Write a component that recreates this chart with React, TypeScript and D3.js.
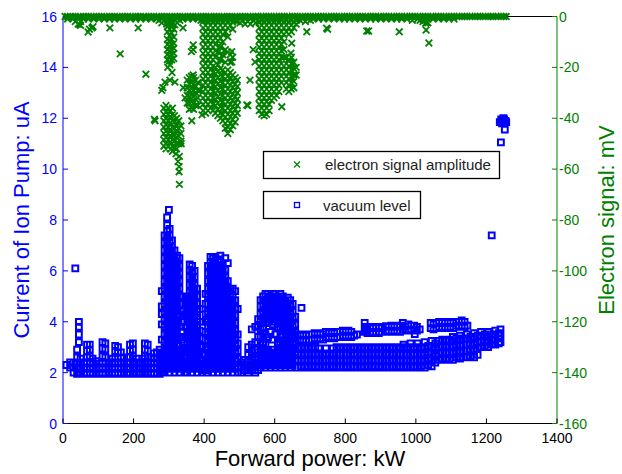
import React from 'react';
import * as d3 from 'd3';

const X_TICKS = [0, 200, 400, 600, 800, 1000, 1200, 1400];
const LEFT_TICKS = [0, 2, 4, 6, 8, 10, 12, 14, 16];
const RIGHT_TICKS = [-160, -140, -120, -100, -80, -60, -40, -20, 0];
const LEGEND_LABELS = ['electron signal amplitude', 'vacuum level'];

// Vacuum level (uA) — columns "power: current current ..."
const VACUUM_BASELINE =
  "10:2.3;20:2.2 2.4;30:2.0 2.2 2.4;40:1.95 2.15 2.35 2.6 2.9;45:2.0 2.2 3.2 3.5 3.8 4.0;50:1.95 2.15 2.35 2.55;60:2.0 2.2 2.4;68:1.95 2.15 2.35 2.6 2.85 3.1;76:2.0 2.2 2.4 2.65 2.9 3.1;84:1.95 2.15 2.35 2.55;94:2.0 2.2 2.45;104:1.95 2.15 2.35;112:2.0 2.2 2.4 2.65 2.95 3.2;120:1.95 2.15 2.35 2.6 2.9 3.15;130:2.0 2.2 2.4;140:1.95 2.15 2.35 2.55;148:2.0 2.2 2.4 2.6 2.85 3.05;156:1.95 2.15 2.35 2.55 2.8 3.0;164:2.0 2.2 2.4 2.6 2.8;174:1.95 2.15 2.35;184:2.0 2.2 2.4 2.6;190:1.95 2.15 2.35 2.6 2.85 3.1;198:2.0 2.2 2.4 2.65 2.9 3.15;208:1.95 2.15 2.35 2.55;218:2.0 2.2 2.4;226:1.95 2.15 2.35 2.55;232:2.0 2.2 2.4 2.65 2.9 3.15;240:1.95 2.15 2.35 2.6 2.85 3.1;250:2.0 2.2 2.4 2.6;258:1.95 2.15 2.35 2.55 2.75;266:2.0 2.2 2.4 2.6 2.8;274:1.95 2.15 2.35 2.6 2.9;280:2.0 2.2 2.5 2.8 3.3 3.9 4.3 4.6 5.2";

const VACUUM_PEAKS =
  "288:2.0 2.3 2.6 2.9 3.2 3.5 3.8 4.1 4.4 4.7 5.0 5.3 5.6 5.9 6.2 6.5 6.8 7.1 7.4;295:2.15 2.45 2.75 3.05 3.35 3.65 3.95 4.25 4.55 4.85 5.15 5.45 5.75 6.05 6.35 6.65 6.95 7.25 7.55 7.8 8.1;300:8.4;302:2.0 2.3 2.6 2.9 3.2 3.5 3.8 4.1 4.4 4.7 5.0 5.3 5.6 5.9 6.2 6.5 6.8 7.1 7.4 7.65;309:2.15 2.45 2.75 3.05 3.35 3.65 3.95 4.25 4.55 4.85 5.15 5.45 5.75 6.05 6.35 6.65 6.95 7.2;316:2.0 2.3 2.6 2.9 3.2 3.5 3.8 4.1 4.4 4.7 5.0 5.3 5.6 5.9 6.2 6.5 6.8;323:2.15 2.45 2.75 3.05 3.35 3.65 3.95 4.25 4.55 4.85 5.15 5.45 5.75 6.05 6.35 6.6;330:2.0 2.3 2.6 2.9 3.4 3.8 4.3 4.7 5.0 5.3 5.6 5.9 6.2 6.5;337:2.15 2.45 2.8 3.3 3.6 4.0 4.4 4.7 5.0;344:2.0 2.25 2.55 2.85 3.2 4.0 4.3;" +
  "352:2.0 2.3 2.6 2.9 3.2 3.5 3.8 4.1 4.4 4.7 5.0;359:2.15 2.45 2.75 3.05 3.35 3.65 3.95 4.25 4.55 4.85 5.15 5.45 5.75 6.05 6.25;366:2.0 2.3 2.6 2.9 3.2 3.5 3.8 4.1 4.4 4.7 5.0 5.3 5.6 5.9 6.2;373:2.15 2.45 2.75 3.05 3.35 3.65 3.95 4.25 4.55 4.85 5.15 5.45 5.75 6.0;380:2.0 2.3 2.6 2.9 3.2 3.5 3.8 4.1 4.4 4.7 5.0 5.3;387:2.15 2.45 2.75 3.05 3.35 3.65 4.0 4.5;394:2.0 2.2 2.5 3.0;399:2.1 2.35 2.7;407:2.0 3.0 4.0;" +
  "404:2.1 2.4 2.7 3.3 3.6 4.3 4.7 5.1;411:2.0 2.3 2.6 2.9 3.2 3.5 3.8 4.1 4.4 4.7 5.0 5.3 5.6 5.9 6.2;418:2.15 2.45 2.75 3.05 3.35 3.65 3.95 4.25 4.55 4.85 5.15 5.45 5.75 6.05 6.35 6.55;425:2.0 2.3 2.6 2.9 3.2 3.5 3.8 4.1 4.4 4.7 5.0 5.3 5.6 5.9 6.2 6.5;432:2.15 2.45 2.75 3.05 3.35 3.65 3.95 4.25 4.55 4.85 5.15 5.45 5.75 6.05 6.35 6.55;439:2.0 2.3 2.6 2.9 3.2 3.5 3.8 4.1 4.4 4.7 5.0 5.3 5.6 5.9 6.2 6.45;446:2.15 2.45 2.75 3.05 3.35 3.65 3.95 4.25 4.55 4.85 5.15 5.45 5.75 6.05 6.35 6.6;453:2.0 2.3 2.6 2.9 3.2 3.5 3.8 4.1 4.4 4.7 5.0 5.3 5.6 5.9 6.2;460:2.15 2.45 2.75 3.05 3.35 3.65 3.95 4.25 4.55 4.85 5.15 5.45 5.75 6.05 6.5;467:2.0 2.3 2.6 2.9 3.2 3.5 3.8 4.1 4.4 4.7 5.0 5.3 5.6 6.3;474:2.15 2.45 2.75 3.05 3.35 3.65 3.95 4.25 4.55 4.85 5.1 5.3;481:2.0 2.3 2.6 2.9 3.2 3.5 3.8 4.1 4.4 4.7 5.0 5.3;488:2.15 2.45 2.75 3.05 3.35 3.65 3.95 4.25 4.55 4.85 5.2;495:2.0 2.25 2.55 2.85 3.15 3.5 4.5;" +
  "505:2.0 2.2 2.4;515:2.1 2.3 2.5;525:2.0 2.2 2.4 2.7 3.0;535:2.1 2.3 2.5 2.8 3.1 3.7;545:2.0 2.2 2.4 2.6 2.9 3.2 3.8;553:2.1 2.3 2.5 2.8 3.4 3.85 4.1;" +
  "560:2.2 2.5 2.8 3.1 3.4 3.7 4.0 4.3 4.6 4.85;567:2.3 2.6 2.9 3.2 3.5 3.8 4.1 4.4 4.7 5.0;574:2.2 2.5 2.8 3.1 3.5 3.95 4.25 4.55 4.85 5.1;581:2.3 2.6 2.9 3.4 4.0 4.3 4.6 4.9 5.1;588:2.2 2.5 2.8 3.6 4.1 4.4 4.7 5.0;595:2.3 2.6 2.9 3.3 3.9 4.2 4.5 4.8 5.1;602:2.2 2.5 2.8 3.5 4.0 4.3 4.6 4.9 5.1;609:2.3 2.6 2.9 3.2 3.8 4.1 4.4 4.7 5.0;616:2.2 2.5 2.8 3.1 3.4 3.7 4.0 4.3 4.6 4.9 5.1;623:2.3 2.6 2.9 3.2 3.5 3.8 4.1 4.4 4.7 5.0;630:2.2 2.5 2.8 3.1 3.4 3.7 4.0 4.3 4.6 4.85;637:2.3 2.6 2.9 3.2 3.5 3.8 4.1 4.4 4.7 4.95;644:2.2 2.5 2.8 3.1 3.4 3.7 4.0 4.3 4.6 4.85;651:2.3 2.6 2.9 3.2 3.5 3.8 4.1 4.4 4.7;658:2.2 2.5 2.8 3.1 3.4 3.6 3.9 4.2";

const VACUUM_LOWER_BAND =
  "665:2.2 2.45 2.7 2.95;675:2.25 2.5 2.75 3.0;685:2.2 2.45 2.7 2.95;695:2.25 2.5 2.75 3.0;705:2.2 2.45 2.7 2.95;715:2.25 2.5 2.75 3.0;725:2.2 2.45 2.7 2.95;735:2.25 2.5 2.75;745:2.2 2.45 2.7 2.95;755:2.25 2.5 2.75;765:2.2 2.45 2.7 2.95;775:2.25 2.5 2.75 3.0;785:2.2 2.45 2.7 2.95;795:2.25 2.5 2.75 3.0;805:2.2 2.45 2.7 2.95;815:2.25 2.5 2.75 3.0;825:2.2 2.45 2.7 2.95;835:2.25 2.5 2.75 3.0;845:2.2 2.45 2.7 2.95;855:2.25 2.5 2.75 3.0;865:2.2 2.45 2.7 2.95;875:2.25 2.5 2.75 3.0;885:2.2 2.45 2.7 2.95;895:2.25 2.5 2.75 3.0;905:2.2 2.45 2.7 2.95;915:2.25 2.5 2.75 3.0;925:2.2 2.45 2.7 2.95;935:2.25 2.5 2.75 3.0;945:2.2 2.45 2.7 2.95;955:2.25 2.5 2.75 3.0;965:2.2 2.45 2.7 2.95 3.1;975:2.25 2.5 2.75 3.0;985:2.2 2.45 2.7 2.95 3.15;995:2.25 2.5 2.75 3.0;1005:2.2 2.45 2.7 2.95 3.15;1015:2.25 2.5 2.75 3.0;1025:2.2 2.45 2.7 2.95 3.2;1035:2.3 2.55 2.8 3.05;1045:2.25 2.5 2.75 3.0 3.25;1055:2.4 2.65 2.9 3.15;1065:2.5 2.75 3.0 3.25;1075:2.55 2.8 3.05 3.3;1085:2.5 2.75 3.0 3.25;1095:2.55 2.8 3.05 3.3;1105:2.5 2.75 3.0 3.25 3.4;1115:2.6 2.85 3.1 3.35;1125:2.55 2.8 3.05 3.3 3.45;1135:2.6 2.85 3.1 3.35;1145:2.6 2.85 3.1 3.35 3.5;1155:2.65 2.9 3.15 3.4;1165:2.6 2.85 3.1 3.35 3.55;1175:2.7 2.95 3.2 3.45;1185:3.0 3.2 3.45 3.6;1195:3.05 3.25 3.5;1205:3.0 3.2 3.4 3.6;1215:3.1 3.3 3.5;1225:3.1 3.3 3.5 3.65;1235:3.15 3.35 3.55;1240:3.2 3.45 3.7";

const VACUUM_UPPER_BAND =
  "665:3.3 3.5;673:3.25 3.45;681:3.3 3.5;689:3.25 3.45;697:3.3 3.5;705:3.3 3.5;713:3.35 3.55;721:3.3 3.5;729:3.35 3.55;737:3.3 3.5;745:3.4 3.6;753:3.35 3.55;761:3.4 3.6;769:3.35 3.55;777:3.4 3.6;785:3.4 3.6;793:3.45 3.65;801:3.4 3.6;809:3.45 3.65;817:3.4 3.6;825:3.45;833:3.5;855:3.6 3.8 3.95;860:3.68;863:3.55 3.75;871:3.6 3.8;879:3.55 3.75;887:3.6 3.8;895:3.55 3.75;903:3.6 3.8;915:3.65 3.83;923:3.6 3.8;931:3.65 3.85;939:3.6 3.8;947:3.65 3.85;955:3.6 3.8;963:3.7 3.85 3.95;971:3.65 3.8;979:3.7 3.9;987:3.65 3.85;995:3.7 3.85;997:3.52;1003:3.65 3.8;1011:3.7;1042:3.75 3.95;1050:3.7 3.9;1058:3.75 3.95;1066:3.8 4.0;1074:3.75 3.95;1082:3.8 4.0;1090:3.75 3.95;1098:3.8 4.0;1106:3.75 3.95;1114:3.85 4.0;1122:3.8 4.0;1130:3.85 4.05;1138:3.8 4.0;1146:3.85";

const VACUUM_OUTLIERS =
  "35:6.1;676:4.55;1215:7.4;1241:11.05;1252:11.55;1238:11.85;1242:11.95;1244:11.8;1246:11.9;1248:12.0;1250:11.95;1254:11.9;1256:11.85";

// Electron signal amplitude (mV) — columns "power: signal signal ..."
const SIGNAL_TOP =
  "6:0;13:0 -1;21:0;28:0 -1;35:0 -2;43:0 -1 -3;50:0 -2 -3.5;58:0 -1;65:0;72:0 -1;80:0;87:0 -1;95:0;102:0 -1;109:0;117:0 -1;124:0;132:0 -1;139:0;146:0 -1;154:0;161:0 -1;169:0;176:0 -1;183:0;191:0 -1;198:0;206:0 -1;213:0;220:0 -1;228:0;235:0 -1;243:0;250:0 -1;257:0;265:0 -1;272:0 -1.5;280:0 -1 -2.5;287:0 -1.5;294:0 -1 -3;302:0 -2;309:0 -1 -3;317:0 -1.5;324:0 -1 -2.5;331:0 -1.5;339:0 -1;346:0;354:0 -1;361:0;368:0 -1;376:0;383:0 -1;391:0 -1.5;398:0 -1;405:0;413:0 -1;420:0;428:0 -1;435:0;442:0 -1;450:0;457:0 -1;465:0;472:0 -1;479:0;487:0 -1;494:0 -1.5;502:0 -1 -2.5;509:0 -1.5;516:0 -1 -3;524:0 -2;531:0 -1 -3;539:0 -1.5;546:0 -1 -2.5;553:0;561:0;568:0;576:0;583:0;590:0;598:0;605:0;613:0;620:0;627:0;635:0;642:0;650:0;657:0;664:0 -1;672:0 -1.5;679:0 -1;687:0 -2;694:0 -1;701:0 -1.5;709:0 -1;716:0;724:0 -1;731:0;738:0 -1;746:0;753:0 -1;761:0;768:0 -1;775:0;783:0 -1;790:0;798:0 -1;805:0;812:0 -1;820:0;827:0 -1;835:0;842:0 -1;849:0;857:0 -1;864:0;872:0 -1;879:0;886:0 -1;894:0;901:0 -1;909:0;916:0 -1;923:0;931:0 -1;938:0;946:0 -1;953:0;960:0 -1;968:0;975:0 -1;983:0;990:0 -1.5;997:0;1005:0 -1;1012:0 -1.5;1020:0 -1 -2;1027:0 -1.5;1034:0 -1 -2.5;1042:0;1049:0 -1;1057:0;1064:0 -1;1071:0;1079:0 -1;1086:0;1094:0 -1;1101:0;1108:0 -1;1116:0;1123:0;1131:0;1138:0;1145:0;1153:0;1160:0;1168:0;1175:0;1182:0;1190:0;1197:0;1205:0;1212:0;1219:0;1227:0;1234:0;1242:0;1249:0;1256:0";

const SIGNAL_CLUSTERS =
  "296:-4 -6 -9 -11 -13 -15 -17;302:-3 -5 -7.5 -9.5 -11.5 -13.5 -15.5 -17.5;308:-4 -6.5 -9 -11 -13 -15 -17;314:-5 -8 -10.5 -12.5 -14.5 -16.5;" +
  "286:-36 -38.5 -41 -43.5 -46 -48.5 -51;292:-35 -37.5 -40 -42.5 -45 -47.5 -50 -52;298:-36 -38.5 -41 -43.5 -46 -48.5 -51;304:-37 -39.5 -42 -44.5 -47 -49.5 -52;310:-36 -38.5 -41 -43.5 -46 -48.5 -51 -53;316:-39 -41.5 -44 -46.5 -49 -51.5;322:-40 -42.5 -45 -47.5 -50 -52;328:-41 -44 -47 -50;334:-43 -46 -49;" +
  "352:-25 -28 -31 -34;358:-24 -26.5 -29 -31.5 -34 -36.5;364:-23.5 -26 -28.5 -31 -33.5 -36;370:-24 -26.5 -29 -31.5 -34 -36.5;376:-25 -27.5 -30 -32.5 -35;382:-26 -29 -32 -35;388:-29;" +
  "397:-2 -4.5 -7 -9.5 -12 -14.5 -17 -19.5 -22 -24.5 -27 -29.5 -32 -34.5 -37;404:-1.5 -3.5 -6 -8.5 -11 -13.5 -16 -18.5 -21 -23.5 -26 -28.5 -31 -33.5 -36 -38;411:-2 -4.5 -7 -9.5 -12 -14.5 -17 -19.5 -22 -24.5 -27 -29.5 -32 -34.5 -37;418:-1.5 -3.5 -6 -8.5 -11 -13.5 -16 -18.5 -21 -23.5 -26 -28.5 -31 -33.5 -36;425:-2 -4.5 -7 -9.5 -12 -14.5 -17 -19.5 -22 -24.5 -27 -29.5 -32 -34.5 -37;432:-1.5 -3.5 -6 -8.5 -11 -13.5 -16 -20 -22.5 -25 -27.5 -30 -32.5 -35 -38;439:-2 -4.5 -7 -9.5 -14 -19 -21.5 -24 -26.5 -29 -31.5 -34 -36.5 -39;446:-1.5 -3.5 -6 -8.5 -12 -17 -20.5 -23 -25.5 -28 -30.5 -33 -35.5 -38 -40;453:-2 -4.5 -7 -10 -15 -21 -23.5 -26 -28.5 -31 -33.5 -36 -38.5 -41;460:-1.5 -3.5 -6 -13 -18 -22 -24.5 -27 -29.5 -32 -34.5 -37 -39.5 -42 -44;467:-2 -4.5 -8 -14 -21 -23.5 -26 -28.5 -31 -33.5 -36 -38.5 -41 -43.5 -46;474:-1.5 -3.5 -15 -18 -22 -24.5 -27 -29.5 -32 -34.5 -37 -39.5 -42 -44.5;481:-2 -5 -16 -23 -25.5 -28 -30.5 -33 -35.5 -38 -40.5 -43;488:-1.5 -24 -26.5 -29 -31.5 -34 -36.5 -39 -41.5;494:-2 -25 -27.5 -30 -32.5 -35 -38;" +
  "556:-2 -4.5 -7 -9.5 -12 -14.5 -17 -19.5 -22 -24.5 -27 -29.5 -32 -34.5 -37;563:-1.5 -3.5 -6 -8.5 -11 -13.5 -16 -18.5 -21 -23.5 -26 -28.5 -31 -33.5 -36 -38.5;570:-2 -4.5 -7 -9.5 -12 -14.5 -17 -19.5 -22 -24.5 -27 -29.5 -32 -34.5 -37 -39;577:-1.5 -3.5 -6 -8.5 -11 -13.5 -16 -18.5 -21 -23.5 -26 -28.5 -31 -33.5 -36 -38.5;584:-2 -4.5 -7 -9.5 -12 -14.5 -17 -19.5 -22 -24.5 -27 -29.5 -32 -34.5 -37;591:-1.5 -3.5 -6 -8.5 -11 -13.5 -16 -18.5 -21 -23.5 -26 -28.5 -31 -33;598:-2 -4.5 -7 -9.5 -12 -14.5 -17 -19.5 -22 -24.5 -27 -29.5 -32;605:-1.5 -3.5 -6 -8.5 -11 -13.5 -16 -18.5 -21 -23.5 -26 -28.5 -31;612:-2 -4.5 -7 -9.5 -12 -14.5 -17 -19.5 -22 -24.5 -27 -29.5;619:-1.5 -3.5 -6 -8.5 -11 -13.5 -16 -18.5 -21 -23.5 -26;626:-2 -4.5 -7 -10 -13 -16 -19.5 -22;633:-1.5 -3.5 -6 -16 -18.5 -21 -23.5 -26 -28.5;640:-2 -4.5 -7 -17 -19.5 -22 -24.5 -27 -29.5;647:-1.5 -3.5 -6 -16 -18.5 -21 -23.5 -26 -28.5;654:-2 -4.5 -18 -20.5 -23 -25.5 -28;661:-1.5 -3 -20 -23";

const SIGNAL_SCATTER =
  "48:-3.3;71:-6.1;75:-5;82:-4.5;85:-4;133:-4.5;213:-4.5;162:-14.7;235:-22.7;259:-40.4;261:-41;280:-29;283:-28;289:-25.8;297:-20;303:-19 -25;309:-22;317:-25.8 -3.3;320:-54;326:-57;329:-59 -61;330:-55 -66;335:-50;340:-4.5;341:-28;346:-32;364:-13.8;365:-41;369:-23 -11.2 -13;394:-38.7;474:-24;478:-13.8 -17.8;521:-34.8;524:-35;530:-25;539:-13;544:-17.9;620:-35.5;646:-14.4;648:-10.5;691:-6;747:-4.6;750:-5;861:-5.7;866:-5.7;953:-6;1028:-2.6;1029:-5.3;1037:-10.4";

function parseColumns(s: string): [number, number][] {
  const pts: [number, number][] = [];
  s.split(';').forEach((col) => {
    const [xs, ys] = col.split(':');
    if (!ys) return;
    ys.trim().split(/\s+/).forEach((y) => pts.push([+xs, +y]));
  });
  return pts;
}

const W = 622;
const H = 474;
const BLUE = '#0000ff';
const GREEN = '#008000';
const FONT = 'Arial, "Liberation Sans", Helvetica, sans-serif';

export default function App() {
  const x = d3.scaleLinear().domain([0, 1400]).range([63, 557]);
  const yL = d3.scaleLinear().domain([0, 16]).range([423.5, 16.5]);
  const yR = d3.scaleLinear().domain([-160, 0]).range([423.5, 16.5]);

  const vacuum = [
    ...parseColumns(VACUUM_BASELINE),
    ...parseColumns(VACUUM_PEAKS),
    ...parseColumns(VACUUM_LOWER_BAND),
    ...parseColumns(VACUUM_UPPER_BAND),
    ...parseColumns(VACUUM_OUTLIERS),
  ];
  const signal = [
    ...parseColumns(SIGNAL_TOP),
    ...parseColumns(SIGNAL_CLUSTERS),
    ...parseColumns(SIGNAL_SCATTER),
  ];

  const s = 2.9;
  const sqPath = vacuum
    .map(([a, b]) => {
      const cx = x(a), cy = yL(b);
      return `M${(cx - s).toFixed(1)},${(cy - s).toFixed(1)}h${2 * s}v${2 * s}h${-2 * s}z`;
    })
    .join('');
  const m = 3.3;
  const xPath = signal
    .map(([a, b]) => {
      const cx = x(a), cy = yR(b);
      return `M${(cx - m).toFixed(1)},${(cy - m).toFixed(1)}l${2 * m},${2 * m}m0,${-2 * m}l${-2 * m},${2 * m}`;
    })
    .join('');

  const left = 63, right = 557, top = 16.5, bottom = 423.5;

  return (
    <svg
      width={W}
      height={H}
      style={{ position: 'absolute', left: 0, top: 0, background: '#fff' }}
      fontFamily={FONT}
    >
      <rect x={0} y={0} width={W} height={H} fill="#fff" />
      {/* axes frame */}
      <line x1={left} x2={right} y1={top} y2={top} stroke="#000" strokeWidth={1} />
      <line x1={left} x2={right} y1={bottom} y2={bottom} stroke="#000" strokeWidth={1} />
      <line x1={left} x2={left} y1={top} y2={bottom} stroke={BLUE} strokeWidth={1} />
      <line x1={right} x2={right} y1={top} y2={bottom} stroke={GREEN} strokeWidth={1} />

      {X_TICKS.map((t) => (
        <g key={'xt' + t}>
          <line x1={x(t)} x2={x(t)} y1={bottom} y2={bottom - 5} stroke="#000" />
          <text x={x(t)} y={443} fontSize={14} textAnchor="middle" fill="#000">
            {t}
          </text>
        </g>
      ))}
      {LEFT_TICKS.map((t) => (
        <g key={'yl' + t}>
          <line x1={left} x2={left + 5} y1={yL(t)} y2={yL(t)} stroke={BLUE} />
          <text x={57} y={yL(t) + 5} fontSize={14} textAnchor="end" fill={BLUE}>
            {t}
          </text>
        </g>
      ))}
      {RIGHT_TICKS.map((t) => (
        <g key={'yr' + t}>
          <line x1={right} x2={right - 5} y1={yR(t)} y2={yR(t)} stroke={GREEN} />
          <text x={559} y={yR(t) + 5} fontSize={14} textAnchor="start" fill={GREEN}>
            {t}
          </text>
        </g>
      ))}

      {/* data */}
      <path d={sqPath} fill="none" stroke={BLUE} strokeWidth={2} />
      <path d={xPath} fill="none" stroke={GREEN} strokeWidth={1.8} />

      {/* axis titles */}
      <text x={310} y={466} fontSize={22} textAnchor="middle" fill="#000">
        Forward power: kW
      </text>
      <text
        transform={`translate(29,220) rotate(-90)`}
        fontSize={22}
        textAnchor="middle"
        fill={BLUE}
      >
        Current of Ion Pump: uA
      </text>
      <text
        transform={`translate(614,220) rotate(-90)`}
        fontSize={22}
        textAnchor="middle"
        fill={GREEN}
      >
        Electron signal: mV
      </text>

      {/* legends */}
      <rect x={263.5} y={151.5} width={236} height={27} fill="#fff" stroke="#000" strokeWidth={1.3} />
      <path d="M294,161.5l6,6m0,-6l-6,6" stroke={GREEN} strokeWidth={1.2} fill="none" />
      <text x={325} y={170} fontSize={15} fill="#222">
        {LEGEND_LABELS[0]}
      </text>
      <rect x={263.5} y={191.5} width={157} height={27} fill="#fff" stroke="#000" strokeWidth={1.3} />
      <rect x={294.5} y={202.5} width={5} height={5} stroke={BLUE} strokeWidth={1.3} fill="none" />
      <text x={323} y={210.5} fontSize={15} fill="#222">
        {LEGEND_LABELS[1]}
      </text>
    </svg>
  );
}
